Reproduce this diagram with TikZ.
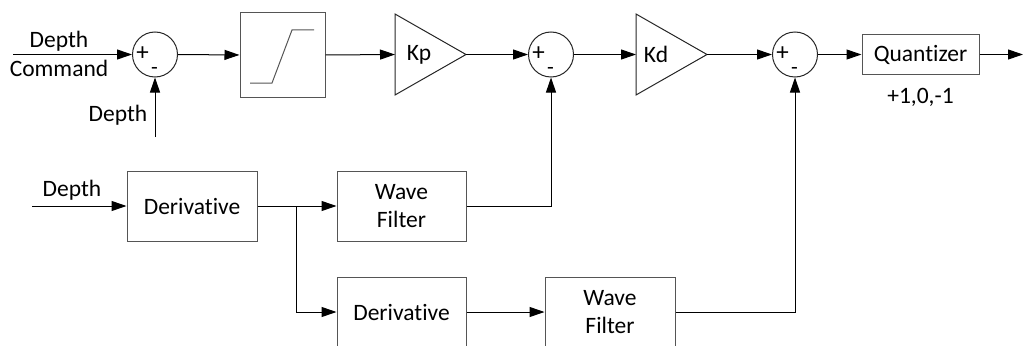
\documentclass[tikz,border=0pt]{standalone}
\usepackage{fontspec}
\setmainfont{Carlito}[Ligatures=NoCommon]
\usetikzlibrary{arrows.meta}
\definecolor{boxgray}{HTML}{555555}
\begin{document}
\begin{tikzpicture}[x=1pt,y=-1pt,
  font=\fontsize{23.5}{28.5}\selectfont,
  blockbox/.style={draw=boxgray, line width=1pt, inner sep=0pt, align=center},
  sumnode/.style={circle, draw=black!85, line width=1pt, minimum size=45pt, inner sep=0pt},
  gainline/.style={draw=black!85, line width=1pt, line join=miter},
  conn/.style={line width=1pt, -{Triangle[length=15pt,width=10pt]}},
  plain/.style={line width=1pt},
  pluslbl/.style={font=\fontsize{25}{25}\selectfont, inner sep=0pt},
  minuslbl/.style={font=\fontsize{22}{22}\selectfont, inner sep=0pt},
  lbl/.style={inner sep=0pt}]
\useasboundingbox (0,0) rectangle (1024,345);

% summing junctions
\node[sumnode] (s1) at (155,54.5) {};
\node[sumnode] (s2) at (551,54.5) {};
\node[sumnode] (s3) at (795,54.5) {};
\foreach \s in {s1,s2,s3}{
  \node[pluslbl] (\s p) at ([xshift=-12.5pt,yshift=1pt]\s.center) {+};
  \node[minuslbl] (\s m) at ([xshift=-0.5pt,yshift=-16pt]\s.center) {-};
}

% saturation block
\node[blockbox, minimum width=85pt, minimum height=85pt] (sat) at (282.5,55) {};
\draw[draw=boxgray, line width=1pt] (250,83) -- (272,83) -- (292,30) -- (314,30);

% gains
\coordinate (kpin) at (395,54.5);
\coordinate (kpout) at (466,54.5);
\draw[gainline] (395,14) -- (466,54.5) -- (395,95) -- cycle;
\node[lbl] (kp) at (419,54.5) {Kp};
\coordinate (kdin) at (636,54.5);
\coordinate (kdout) at (707,54.5);
\draw[gainline] (636,14) -- (707,54.5) -- (636,95) -- cycle;
\node[lbl] (kd) at (656,54.5) {Kd};

% quantizer
\node[blockbox, minimum width=117pt, minimum height=39pt] (q) at (920.5,54.5) {Quantizer};
\node[lbl] (qlbl) at (920.5,97) {+1,0,-1};
\coordinate (qout) at (1023,54.5);

% lower blocks
\node[blockbox, minimum width=130pt, minimum height=70pt] (d1) at (192,206) {Derivative};
\node[blockbox, minimum width=129pt, minimum height=70pt] (wf1) at (401.5,206) {Wave\\Filter};
\node[blockbox, minimum width=129pt, minimum height=70pt] (d2) at (401.5,312) {Derivative};
\node[blockbox, minimum width=130pt, minimum height=70pt] (wf2) at (610,312) {Wave\\Filter};

% inputs and labels
\coordinate (dcin) at (13,54.5);
\node[lbl, align=center] (dclbl) at (59,54) {Depth\\Command};
\coordinate (din) at (155,137);
\node[lbl] (dlbl) at (118,115) {Depth};
\coordinate (d2in) at (32,206);
\node[lbl] (d2lbl) at (72,190) {Depth};
\coordinate (split) at (296,206);

% connectors
\draw[conn] (dcin) -- (s1.west);
\draw[conn] (din) -- (s1.south);
\draw[conn] (s1.east) -- (sat.west);
\draw[conn] (sat.east) -- (kpin);
\draw[conn] (kpout) -- (s2.west);
\draw[conn] (s2.east) -- (kdin);
\draw[conn] (kdout) -- (s3.west);
\draw[conn] (s3.east) -- (q.west);
\draw[conn] (q.east) -- (qout);
\draw[conn] (d2in) -- (d1.west);
\draw[conn] (d1.east) -- (wf1.west);
\draw[conn] (split) |- (d2.west);
\draw[conn] (d2.east) -- (wf2.west);
\draw[conn] (wf1.east) -| (s2.south);
\draw[conn] (wf2.east) -| (s3.south);
\end{tikzpicture}
\end{document}
